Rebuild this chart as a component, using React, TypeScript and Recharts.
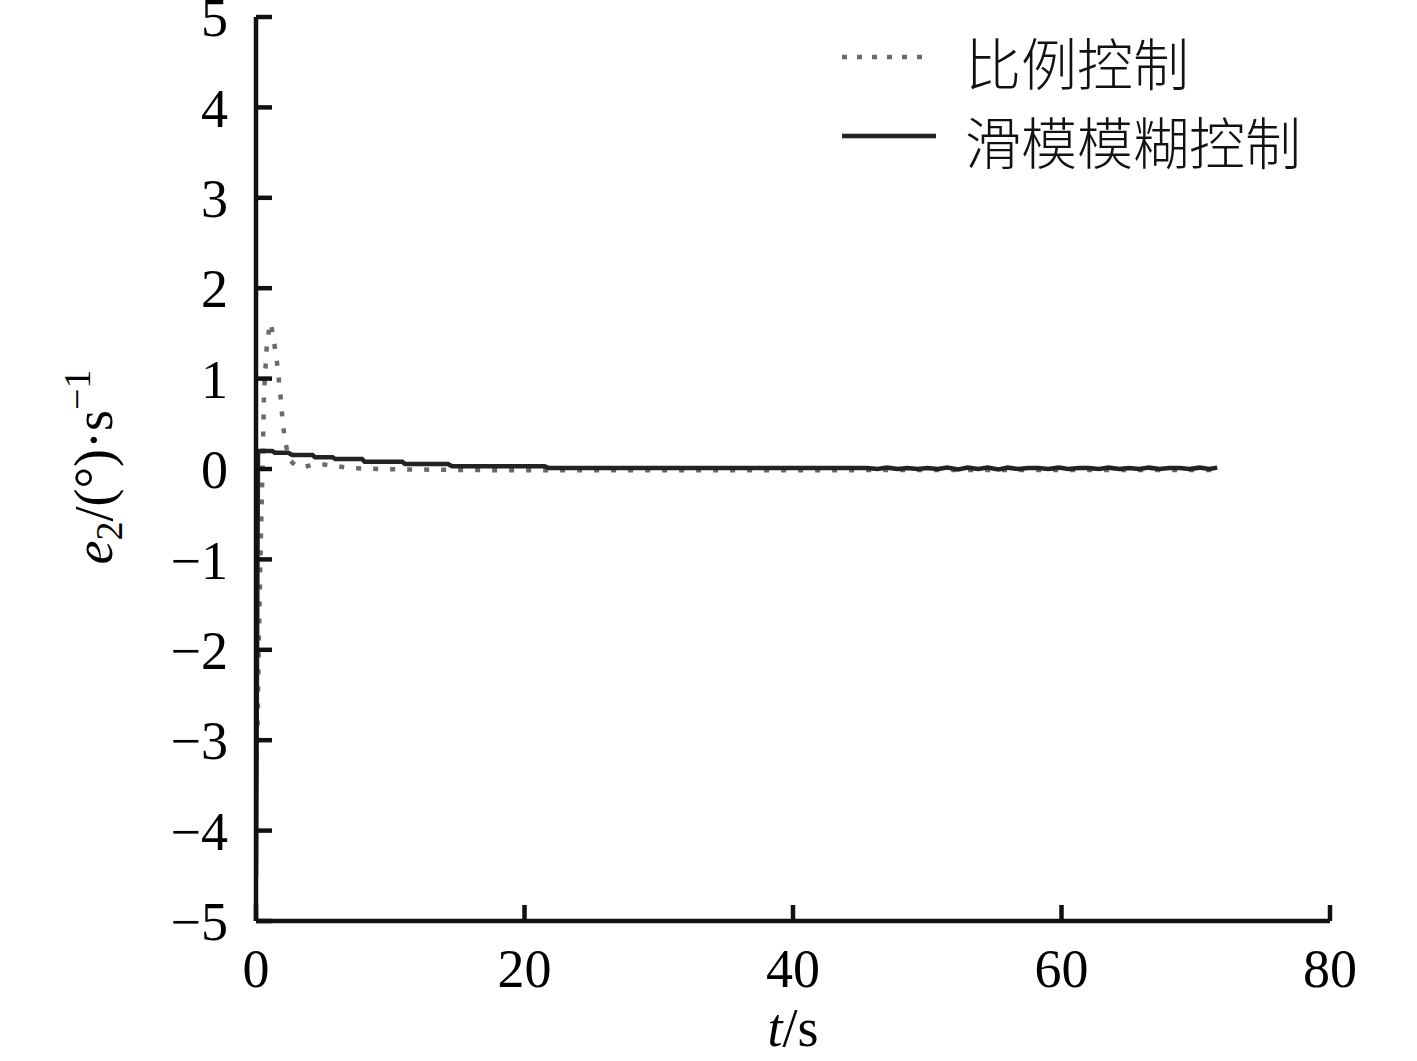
import React from 'react';
import { LineChart, Line, XAxis, YAxis } from 'recharts';

// ---- data ----
const xTicks = [0, 20, 40, 60, 80];
const yTicks = [-5, -4, -3, -2, -1, 0, 1, 2, 3, 4, 5];
const seriesNames = ['比例控制', '滑模模糊控制'];

// proportional control (dotted)
const propT = [0, 0.1, 0.2, 0.3, 0.4, 0.5, 0.6, 0.8, 1.0, 1.1, 1.3, 1.55, 1.8, 2.0, 2.2, 2.5, 3.0, 3.5, 4.2, 4.8, 6, 7.2, 9, 11, 15, 20, 30, 40, 50, 60, 71.6];
const propV = [-3.4, -3.0, -2.0, -1.2, -0.5, 0.1, 0.85, 1.35, 1.58, 1.62, 1.45, 1.2, 0.85, 0.5, 0.28, 0.1, 0.03, 0.02, 0.045, 0.055, 0.03, 0.01, 0.0, -0.005, -0.01, -0.015, -0.015, -0.015, -0.01, -0.01, -0.01];

// sliding mode fuzzy control (solid)
const smfT = [0, 0.15, 1.2, 1.4, 2.4, 2.7, 4.2, 4.4, 5.7, 5.9, 7.9, 8.1, 10.9, 11.1, 14.3, 14.6, 21.5, 21.8, 45.5,
  46.3, 47.0, 47.8, 48.5, 49.3, 50.0, 50.8, 51.5, 52.3, 53.0, 53.8, 54.5, 55.3, 56.0, 56.8, 57.5, 58.3, 59.0, 59.8,
  60.5, 61.3, 62.0, 62.8, 63.5, 64.3, 65.0, 65.8, 66.5, 67.3, 68.0, 68.8, 69.5, 70.3, 71.0, 71.6];
const smfV = [-4.5, 0.2, 0.2, 0.18, 0.18, 0.155, 0.155, 0.13, 0.13, 0.11, 0.11, 0.08, 0.08, 0.055, 0.055, 0.03, 0.03, 0.01, 0.01,
  0.0, 0.015, 0.0, 0.01, 0.0, 0.01, 0.0, 0.015, -0.005, 0.015, 0.0, 0.015, -0.005, 0.015, 0.0, 0.01, 0.01, 0.0, 0.015,
  0.0, 0.01, 0.01, 0.0, 0.015, 0.0, 0.01, 0.0, 0.015, 0.0, 0.01, 0.01, 0.0, 0.015, 0.0, 0.015];

const propData = propT.map((t, i) => ({ t, v: propV[i] }));
const smfData = smfT.map((t, i) => ({ t, v: smfV[i] }));

const fmt = (v: number) => (v < 0 ? '\u2212' + Math.abs(v) : String(v));

const serif = '"Liberation Serif", "DejaVu Serif", serif';
const cjk = '"Noto Sans CJK SC", sans-serif';
const axisColor = '#111';

export default function App() {
  return (
    <div style={{ position: 'absolute', left: 0, top: 0, width: 1417, height: 1061, background: '#fff' }}>
      <LineChart
        width={1417}
        height={1061}
        margin={{ top: 17, right: 87, left: 196, bottom: 80 }}
      >
        <XAxis
          type="number"
          dataKey="t"
          domain={[0, 80]}
          ticks={xTicks}
          height={60}
          allowDataOverflow
          interval={0}
          stroke={axisColor}
          strokeWidth={4.5}
          tickSize={-16}
          tickMargin={44}
          tick={{ fill: '#000', fontSize: 54, fontFamily: serif }}
          tickLine={{ stroke: axisColor, strokeWidth: 4.5 }}
        />
        <YAxis
          type="number"
          domain={[-5, 5]}
          ticks={yTicks}
          width={60}
          allowDataOverflow
          interval={0}
          stroke={axisColor}
          strokeWidth={4.5}
          tickSize={-16}
          tickMargin={44}
          tickFormatter={fmt}
          tick={{ fill: '#000', fontSize: 54, fontFamily: serif }}
          tickLine={{ stroke: axisColor, strokeWidth: 4.5 }}
        />
        <Line
          data={propData}
          dataKey="v"
          name={seriesNames[0]}
          type="linear"
          stroke="#6a6a6a"
          strokeWidth={4.5}
          strokeDasharray="5 12"
          dot={false}
          isAnimationActive={false}
        />
        <Line
          data={smfData}
          dataKey="v"
          name={seriesNames[1]}
          type="linear"
          stroke="#222"
          strokeWidth={4.5}
          dot={false}
          isAnimationActive={false}
        />
      </LineChart>
      <svg
        width={1417}
        height={1061}
        style={{ position: 'absolute', left: 0, top: 0, pointerEvents: 'none' }}
      >
        {/* legend */}
        <line x1={842} y1={57} x2={932} y2={57} stroke="#6a6a6a" strokeWidth={4.5} strokeDasharray="5 10" />
        <text x={965} y={60} fontFamily={cjk} fontSize={56} fontWeight={300} fill="#111" dominantBaseline="central">
          {seriesNames[0]}
        </text>
        <line x1={842} y1={136} x2={936} y2={136} stroke="#222" strokeWidth={4.5} />
        <text x={965} y={139} fontFamily={cjk} fontSize={56} fontWeight={300} fill="#111" dominantBaseline="central">
          {seriesNames[1]}
        </text>
        {/* y label */}
        <text
          x={112}
          y={467}
          transform="rotate(-90 112 467)"
          textAnchor="middle"
          fontFamily={serif}
          fontSize={54}
          fill="#000"
        >
          <tspan fontStyle="italic">e</tspan>
          <tspan fontSize={38} dy={10}>2</tspan>
          <tspan dy={-10}>/(°)·s</tspan>
          <tspan fontSize={38} dy={-22}>{'\u22121'}</tspan>
        </text>
        {/* x label */}
        <text x={793} y={1046} textAnchor="middle" fontFamily={serif} fontSize={54} fill="#000">
          <tspan fontStyle="italic">t</tspan>
          <tspan>/s</tspan>
        </text>
      </svg>
    </div>
  );
}
